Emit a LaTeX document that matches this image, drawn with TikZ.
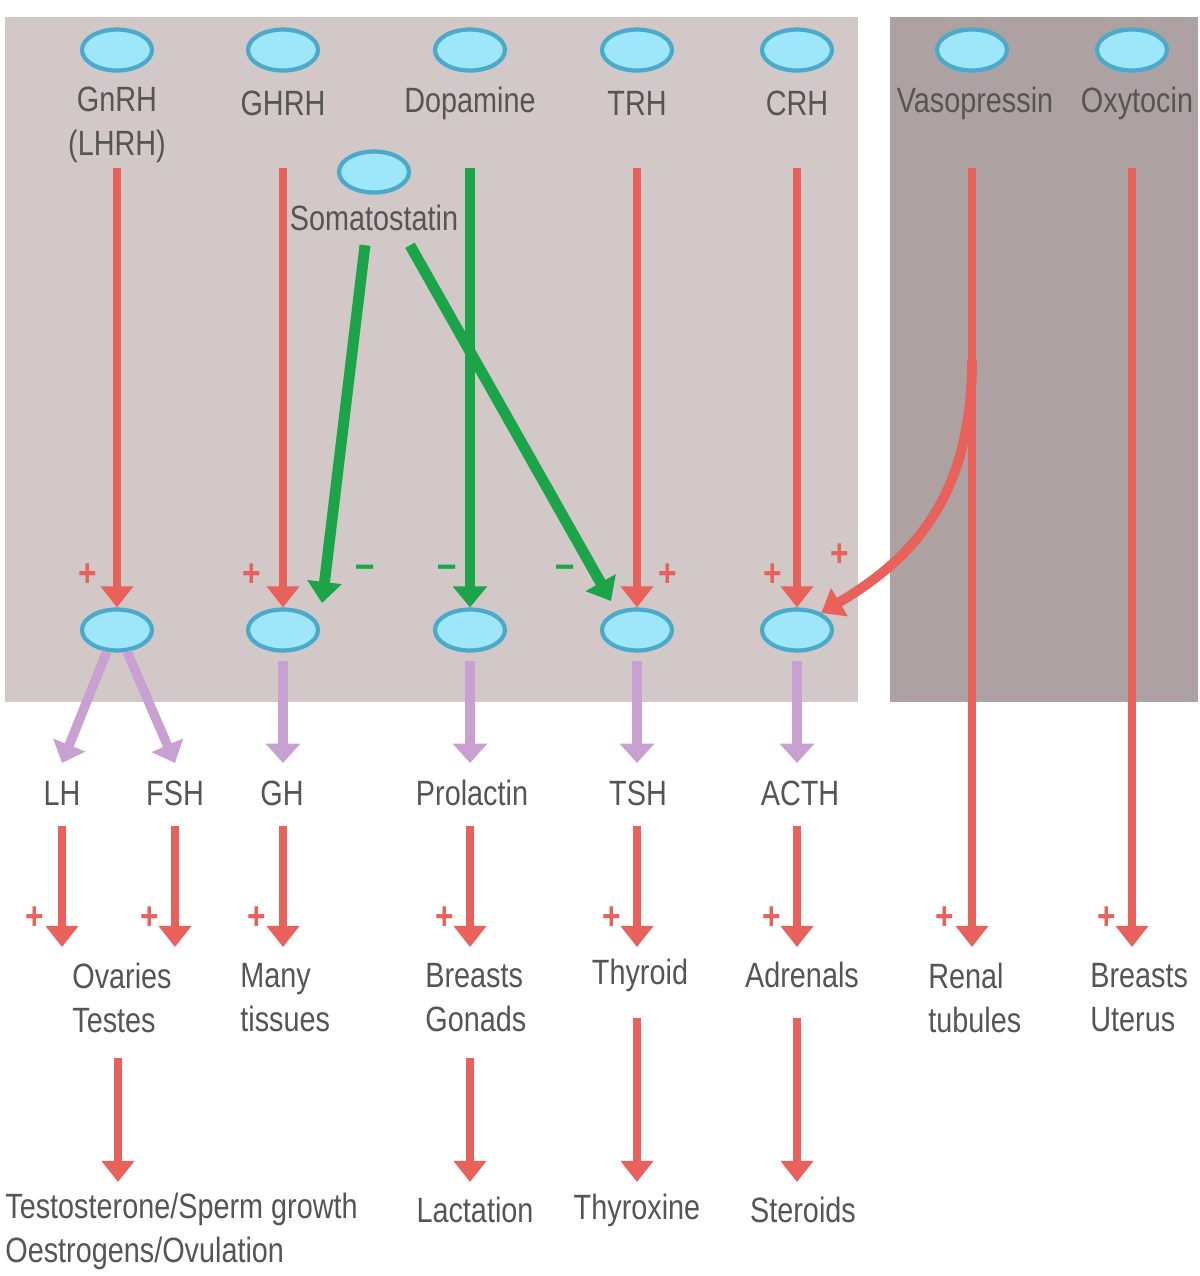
\documentclass[tikz,border=0pt]{standalone}
\usepackage{fontspec}
\setmainfont{Liberation Sans}[FakeStretch=0.82]
\usetikzlibrary{arrows.meta,shapes.geometric,calc}
\definecolor{panelA}{HTML}{D2C8C8}
\definecolor{panelB}{HTML}{ADA1A1}
\definecolor{hred}{HTML}{E8615B}
\definecolor{hgreen}{HTML}{1BA548}
\definecolor{hpurple}{HTML}{C8A0D2}
\definecolor{cellfill}{HTML}{9EE6FA}
\definecolor{celldraw}{HTML}{4BA9C9}
\definecolor{txt}{HTML}{555555}
\begin{document}
\begin{tikzpicture}[x=0.02cm,y=-0.02cm,
  cell/.style={ellipse, draw=celldraw, fill=cellfill, line width=2.4pt, minimum width=1.4cm, minimum height=0.82cm, inner sep=0pt},
  lab/.style={text=txt, font=\fontsize{20}{25}\selectfont, inner sep=0pt, align=center},
  labl/.style={lab, align=left, anchor=west},
  redarr/.style={draw=hred, line width=4.6pt, -{Triangle[width=18pt,length=12pt]}},
  greenarr/.style={draw=hgreen, line width=6.2pt, -{Triangle[width=19pt,length=12pt]}},
  purparr/.style={draw=hpurple, line width=5.4pt, -{Triangle[width=19pt,length=11pt]}},
  plus/.style={text=hred, font=\bfseries\fontsize{22}{22}\selectfont, inner sep=0pt},
  minus/.style={text=hgreen, font=\bfseries\fontsize{24}{24}\selectfont, inner sep=0pt}
]
\path[use as bounding box] (0,0) rectangle (1200,1276);
\fill[panelA] (5,17) rectangle (858,702);
\fill[panelB] (890,17) rectangle (1198,702);

% row coordinates
\coordinate (r1) at (0,168);
\coordinate (p2) at (0,763);
\coordinate (s2) at (0,826);
\coordinate (t2) at (0,947);
\coordinate (s3) at (0,1058);
\coordinate (s3b) at (0,1018);
\coordinate (t3) at (0,1182);
\coordinate (cv) at (0,360);

% top cells
\node[cell] (gnrh) at (117,50) {};
\node[cell] (ghrh) at (283,50) {};
\node[cell] (dop) at (470,50) {};
\node[cell] (trh) at (637,50) {};
\node[cell] (crh) at (797,50) {};
\node[cell] (vas) at (972,50) {};
\node[cell] (oxy) at (1132,50) {};
\node[cell] (som) at (374,172) {};

\node[lab] (gnrhl) at (117,125) {GnRH\\(LHRH)};
\node[lab] (ghrhl) at (283,103) {GHRH};
\node[lab] (dopl) at (470,103) {Dopamine};
\node[lab] (trhl) at (637,103) {TRH};
\node[lab] (crhl) at (797,103) {CRH};
\node[lab] (vasl) at (975,103) {Vasopressin};
\node[lab] (oxyl) at (1137,103) {Oxytocin};
\node[lab] (soml) at (374,218) {Somatostatin};

% lower cells
\node[cell] (pg) at (117,630) {};
\node[cell] (pgh) at (283,630) {};
\node[cell] (pprl) at (470,630) {};
\node[cell] (ptsh) at (637,630) {};
\node[cell] (pacth) at (797,630) {};

% hormone labels
\node[lab] (lh) at (62,793) {LH};
\node[lab] (fsh) at (175,793) {FSH};
\node[lab] (gh) at (282,793) {GH};
\node[lab] (prl) at (472,793) {Prolactin};
\node[lab] (tsh) at (638,793) {TSH};
\node[lab] (acth) at (800,793) {ACTH};

% targets
\node[labl] (ovt) at (72,998) {Ovaries\\Testes};
\node[labl] (many) at (240,998) {Many\\tissues};
\node[labl] (brg) at (425,998) {Breasts\\Gonads};
\node[lab] (thy) at (640,975) {Thyroid};
\node[lab] (adr) at (802,975) {Adrenals};
\node[labl] (ren) at (928,998) {Renal\\tubules};
\node[labl] (bru) at (1090,998) {Breasts\\Uterus};

% final effects
\node[labl] (test) at (5,1231) {Testosterone/Sperm growth\\Oestrogens/Ovulation};
\node[lab] (lact) at (475,1210) {Lactation};
\node[lab] (thyx) at (637,1210) {Thyroxine};
\node[lab] (ster) at (803,1210) {Steroids};

% releasing hormone arrows
\draw[redarr] (gnrh |- r1) -- (pg.north);
\draw[redarr] (ghrh |- r1) -- (pgh.north);
\draw[greenarr] (dop |- r1) -- (pprl.north);
\draw[redarr] (trh |- r1) -- (ptsh.north);
\draw[redarr] (crh |- r1) -- (pacth.north);

% somatostatin
\coordinate (sgh) at (322,603);
\coordinate (strh) at (611,601);
\draw[greenarr] ($(soml.south)+(-9,14)$) -- (sgh);
\draw[greenarr] ($(soml.south)+(36,14)$) -- (strh);

% vasopressin / oxytocin
\draw[redarr] (vas |- r1) -- (vas |- t2);
\draw[redarr] (oxy |- r1) -- (oxy |- t2);
\draw[redarr, line width=5.6pt] (vas |- cv) .. controls (972,500) and (910,560) .. (pacth.35);

% signs
\node[plus] (pa1) at (88,575) {+};
\node[plus] (pa2) at (252,575) {+};
\node[plus] (pa3) at (668,575) {+};
\node[plus] (pa4) at (773,575) {+};
\node[plus] (pa5) at (840,555) {+};
\node[minus] (ma1) at (365,572) {–};
\node[minus] (ma2) at (447,572) {–};
\node[minus] (ma3) at (565,572) {–};

% pituitary hormone arrows
\draw[purparr] (pg.-115) -- (lh |- p2);
\draw[purparr] (pg.-65) -- (fsh |- p2);
\draw[purparr] ($(pgh.south)+(0,8)$) -- (pgh |- p2);
\draw[purparr] ($(pprl.south)+(0,8)$) -- (pprl |- p2);
\draw[purparr] ($(ptsh.south)+(0,8)$) -- (ptsh |- p2);
\draw[purparr] ($(pacth.south)+(0,8)$) -- (pacth |- p2);

% to target organs
\draw[redarr] (lh |- s2) -- (lh |- t2);
\draw[redarr] (fsh |- s2) -- (fsh |- t2);
\draw[redarr] (pgh |- s2) -- (pgh |- t2);
\draw[redarr] (pprl |- s2) -- (pprl |- t2);
\draw[redarr] (ptsh |- s2) -- (ptsh |- t2);
\draw[redarr] (pacth |- s2) -- (pacth |- t2);

\node[plus] (pb1) at (35,918) {+};
\node[plus] (pb2) at (150,918) {+};
\node[plus] (pb3) at (257,918) {+};
\node[plus] (pb4) at (445,918) {+};
\node[plus] (pb5) at (612,918) {+};
\node[plus] (pb6) at (772,918) {+};
\node[plus] (pb7) at (945,918) {+};
\node[plus] (pb8) at (1107,918) {+};

% to effects
\coordinate (c1) at (118,0);
\draw[redarr] (c1 |- s3) -- (c1 |- t3);
\draw[redarr] (pprl |- s3) -- (pprl |- t3);
\draw[redarr] (ptsh |- s3b) -- (ptsh |- t3);
\draw[redarr] (pacth |- s3b) -- (pacth |- t3);
\end{tikzpicture}
\end{document}
